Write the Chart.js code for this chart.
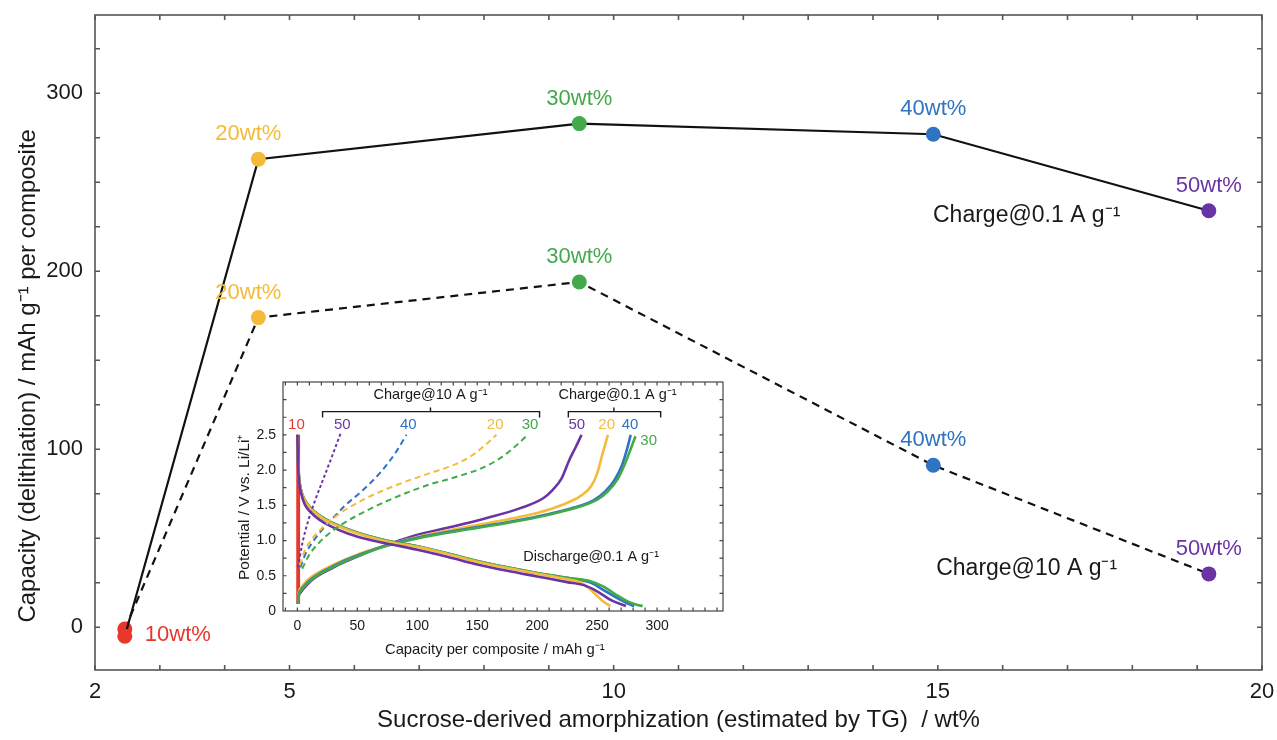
<!DOCTYPE html>
<html>
<head>
<meta charset="utf-8">
<script src="https://cdn.jsdelivr.net/npm/chart.js@4.4.1/dist/chart.umd.min.js"></script>
<style>
  html, body { margin: 0; padding: 0; background: #fff; }
  #wrap { position: relative; width: 1277px; height: 740px; }
  #mainChart { position: absolute; left: 0; top: 0; }
  #insetChart { position: absolute; left: 230px; top: 370px; }
</style>
</head>
<body>
<div id="wrap">
  <canvas id="mainChart" width="1277" height="740"></canvas>
  <canvas id="insetChart" width="500" height="290"></canvas>
</div>
<script>
// main plot: capacity vs amorphization
const samples = ['10wt%', '20wt%', '30wt%', '40wt%', '50wt%'];
const amorphization = [2.46, 4.52, 9.47, 14.93, 19.18];
const charge01 = [-5, 263, 283, 277, 234];
const charge10 = [-1, 174, 194, 91, 30];
const sampleColors = ['#e8372c', '#f4bb3a', '#43a94b', '#2f73c3', '#6b34a5'];
const xTickLabels = [2, 5, 10, 15, 20];
const yTickLabels = [0, 100, 200, 300];

// inset: [capacity, potential] per composite
const insetXTicks = [0, 50, 100, 150, 200, 250, 300];
const insetYTicks = [0, 0.5, 1.0, 1.5, 2.0, 2.5];

// charge @ 10 A/g (dashed)
const fast10 = [[0.3, 0.1], [0.3, 2.5]];
const fast50 = [[0.5, 0.62], [4, 0.95], [9, 1.28], [15, 1.58], [22, 1.89], [29, 2.2], [36, 2.52]];
const fast40 = [[2.5, 0.62], [7, 0.82], [13.6, 1.0], [20, 1.14], [27.5, 1.28], [40, 1.5], [55, 1.72], [70, 1.98], [82, 2.25], [91, 2.5]];
const fast20 = [[2, 0.65], [6, 0.85], [12, 1.02], [22, 1.2], [35, 1.38], [55, 1.58], [80, 1.77], [111, 1.96], [130, 2.07], [145, 2.2], [157, 2.36], [166, 2.5]];
const fast30 = [[4, 0.6], [10, 0.8], [17, 0.95], [25, 1.08], [40, 1.26], [55, 1.4], [80, 1.6], [111, 1.8], [130, 1.89], [158, 2.06], [175, 2.24], [191, 2.48]];

// charge @ 0.1 A/g (solid)
const slow10 = [[1, 0.1], [1, 2.5]];
const slow50 = [[0.5, 0.1], [1, 0.2], [3, 0.27], [8, 0.37], [13, 0.45], [20, 0.53], [28, 0.6], [40, 0.7], [55, 0.81], [70, 0.91], [85, 1.0], [102, 1.09], [130, 1.2], [158, 1.32], [186, 1.46], [205, 1.6], [213, 1.72], [220, 1.87], [227, 2.15], [232, 2.32], [237, 2.5]];
const slow20 = [[0.5, 0.1], [1, 0.25], [3, 0.33], [8, 0.43], [13, 0.5], [20, 0.57], [28, 0.64], [40, 0.73], [55, 0.83], [70, 0.91], [80, 0.96], [100, 1.05], [125, 1.14], [150, 1.22], [175, 1.3], [200, 1.39], [220, 1.5], [236, 1.63], [245, 1.77], [250, 1.95], [254, 2.2], [259, 2.5]];
const slow40 = [[0.5, 0.1], [1, 0.22], [3, 0.3], [8, 0.4], [13, 0.47], [20, 0.55], [28, 0.62], [40, 0.72], [55, 0.82], [70, 0.91], [80, 0.96], [100, 1.04], [125, 1.12], [150, 1.19], [175, 1.26], [200, 1.34], [220, 1.42], [235, 1.49], [247, 1.57], [257, 1.7], [265, 1.87], [271, 2.08], [275, 2.3], [278, 2.5]];
const slow30 = [[0.5, 0.1], [1, 0.21], [3, 0.29], [8, 0.39], [13, 0.46], [20, 0.54], [28, 0.61], [40, 0.71], [55, 0.81], [70, 0.9], [80, 0.95], [100, 1.03], [125, 1.11], [150, 1.18], [175, 1.25], [200, 1.33], [220, 1.41], [237, 1.49], [250, 1.58], [259, 1.7], [267, 1.87], [273, 2.08], [278, 2.3], [282, 2.48]];

// discharge @ 0.1 A/g (solid)
const dis50 = [[0, 2.5], [0.5, 2.1], [1.5, 1.83], [3, 1.68], [6, 1.52], [10, 1.42], [18, 1.3], [28, 1.2], [42, 1.1], [60, 1.01], [80, 0.94], [100, 0.87], [125, 0.77], [150, 0.66], [175, 0.57], [200, 0.49], [225, 0.41], [240, 0.36], [250, 0.28], [262, 0.15], [274, 0.07]];
const dis20 = [[0, 2.5], [0.5, 2.12], [1.5, 1.86], [3, 1.71], [6, 1.57], [10, 1.47], [18, 1.35], [28, 1.25], [42, 1.15], [60, 1.05], [80, 0.97], [100, 0.91], [125, 0.81], [150, 0.7], [175, 0.61], [200, 0.53], [225, 0.45], [238, 0.39], [246, 0.28], [254, 0.15], [261, 0.07]];
const dis40 = [[0, 2.5], [0.5, 2.15], [1.5, 1.88], [3, 1.72], [6, 1.58], [10, 1.48], [18, 1.36], [28, 1.26], [42, 1.16], [60, 1.06], [80, 0.98], [100, 0.92], [125, 0.82], [150, 0.71], [175, 0.62], [200, 0.54], [225, 0.47], [245, 0.4], [255, 0.3], [265, 0.2], [275, 0.11], [281, 0.07]];
const dis30 = [[0, 2.5], [0.5, 2.15], [1.5, 1.88], [3, 1.72], [6, 1.58], [10, 1.48], [18, 1.36], [28, 1.26], [42, 1.16], [60, 1.06], [80, 0.98], [100, 0.92], [125, 0.82], [150, 0.71], [175, 0.62], [200, 0.54], [225, 0.47], [245, 0.42], [255, 0.35], [265, 0.24], [275, 0.14], [283, 0.09], [288, 0.07]];

const FONT = '"Liberation Sans", Arial, Helvetica, sans-serif';
Chart.defaults.font.family = FONT;
Chart.defaults.color = '#1a1a1a';

function range(a, b, step) {
  const out = [];
  for (let v = a; v <= b + 1e-9; v += step) out.push(+v.toFixed(4));
  return out;
}

// keep the tick labels from pushing the plot area inwards
function noPad(s) {
  s.paddingLeft = 0; s.paddingRight = 0; s.paddingTop = 0; s.paddingBottom = 0;
}

// trailing no-break spaces nudge a centred axis title off-centre
const nb = n => '\u00A0'.repeat(n);

// box around the plot with inward ticks on all four sides
const framePlugin = {
  id: 'frame',
  beforeDraw(chart, args, opts) {
    if (!opts.fill) return;
    const { ctx, chartArea: a } = chart;
    ctx.save();
    ctx.fillStyle = '#fff';
    ctx.fillRect(a.left, a.top, a.right - a.left, a.bottom - a.top);
    ctx.restore();
  },
  afterDraw(chart, args, opts) {
    const { ctx, chartArea: a, scales: { x, y } } = chart;
    ctx.save();
    ctx.strokeStyle = opts.color;
    ctx.lineWidth = opts.width;
    ctx.strokeRect(a.left, a.top, a.right - a.left, a.bottom - a.top);
    ctx.beginPath();
    opts.xTicks.forEach(v => {
      const px = x.getPixelForValue(v);
      ctx.moveTo(px, a.bottom); ctx.lineTo(px, a.bottom - opts.len);
      ctx.moveTo(px, a.top); ctx.lineTo(px, a.top + opts.len);
    });
    opts.yTicks.forEach(v => {
      const py = y.getPixelForValue(v);
      ctx.moveTo(a.left, py); ctx.lineTo(a.left + opts.len, py);
      ctx.moveTo(a.right, py); ctx.lineTo(a.right - opts.len, py);
    });
    ctx.stroke();
    ctx.restore();
  }
};

// labels next to the main-plot points + the two rate annotations
const mainLabels = {
  id: 'mainLabels',
  afterDatasetsDraw(chart) {
    const { ctx, scales: { x, y } } = chart;
    ctx.save();
    ctx.font = '22px ' + FONT;
    ctx.textBaseline = 'middle';
    chart.data.datasets.forEach((ds, di) => {
      chart.getDatasetMeta(di).data.forEach((pt, i) => {
        if (i === 0) return;
        ctx.fillStyle = sampleColors[i];
        ctx.textAlign = 'center';
        ctx.fillText(samples[i], pt.x + (i === 1 ? -10 : 0), pt.y - 25);
      });
    });
    const p0 = chart.getDatasetMeta(0).data[0];
    ctx.fillStyle = sampleColors[0];
    ctx.textAlign = 'left';
    ctx.fillText(samples[0], p0.x + 20, p0.y - 1);

    ctx.fillStyle = '#1a1a1a';
    ctx.textAlign = 'center';
    ctx.font = '23px ' + FONT;
    ctx.fillText('Charge@0.1 A g\u207B\u00B9', x.getPixelForValue(16.37), y.getPixelForValue(231));
    ctx.fillText('Charge@10 A g\u207B\u00B9', x.getPixelForValue(16.37), y.getPixelForValue(33));
    ctx.restore();
  }
};

const pts = (xs, ys) => xs.map((v, i) => ({ x: v, y: ys[i] }));

new Chart(document.getElementById('mainChart'), {
  type: 'line',
  data: {
    datasets: [
      {
        label: 'Charge@0.1 A g-1',
        data: pts(amorphization, charge01),
        borderColor: '#111',
        borderWidth: 2.2,
        pointRadius: 7.5,
        pointBorderWidth: 0,
        pointBackgroundColor: sampleColors
      },
      {
        label: 'Charge@10 A g-1',
        data: pts(amorphization, charge10),
        borderColor: '#111',
        borderWidth: 2.2,
        borderDash: [8, 6],
        pointRadius: 7.5,
        pointBorderWidth: 0,
        pointBackgroundColor: sampleColors
      }
    ]
  },
  options: {
    responsive: false,
    animation: false,
    layout: { padding: { top: 15, right: 15, left: 0, bottom: 0 } },
    plugins: {
      legend: { display: false },
      tooltip: { enabled: false },
      frame: { color: '#555', width: 1.6, len: 5, xTicks: range(2, 20, 1), yTicks: range(0, 325, 25) }
    },
    scales: {
      x: {
        type: 'linear', min: 2, max: 20,
        grid: { display: false, drawTicks: false },
        border: { display: false },
        afterBuildTicks: s => { s.ticks = xTickLabels.map(v => ({ value: v })); },
        afterFit: s => { s.height = 70; noPad(s); },
        ticks: { font: { size: 22 }, color: '#1a1a1a', padding: 9, maxRotation: 0, autoSkip: false },
        title: {
          display: true,
          text: 'Sucrose-derived amorphization (estimated by TG)  / wt%',
          font: { size: 24 }, color: '#1a1a1a',
          padding: { top: 0, bottom: 5 }
        }
      },
      y: {
        type: 'linear', min: -24, max: 344,
        grid: { display: false, drawTicks: false },
        border: { display: false },
        afterBuildTicks: s => { s.ticks = yTickLabels.map(v => ({ value: v })); },
        afterFit: s => { s.width = 95; noPad(s); },
        ticks: { font: { size: 22 }, color: '#1a1a1a', padding: 12 },
        title: {
          display: true,
          text: 'Capacity (delithiation) / mAh g\u207B\u00B9 per composite' + nb(10),
          font: { size: 24 }, color: '#1a1a1a',
          padding: { top: 14, bottom: 0 }
        }
      }
    }
  },
  plugins: [framePlugin, mainLabels]
});

// ---------- inset ----------
const insetText = {
  id: 'insetText',
  afterDatasetsDraw(chart) {
    const { ctx, scales: { x, y } } = chart;
    const X = v => x.getPixelForValue(v);
    const Y = v => y.getPixelForValue(v);
    ctx.save();
    ctx.textAlign = 'center';
    ctx.textBaseline = 'middle';

    ctx.fillStyle = '#1a1a1a';
    ctx.font = '14.5px ' + FONT;
    ctx.fillText('Charge@10 A g\u207B\u00B9', X(111), Y(3.06));
    ctx.fillText('Charge@0.1 A g\u207B\u00B9', X(267), Y(3.06));
    ctx.fillText('Discharge@0.1 A g\u207B\u00B9', X(245), Y(0.77));

    // brackets
    ctx.strokeStyle = '#1a1a1a';
    ctx.lineWidth = 1.4;
    const bracket = (x1, x2, xm, v) => {
      ctx.beginPath();
      ctx.moveTo(X(x1), Y(v) + 6); ctx.lineTo(X(x1), Y(v));
      ctx.lineTo(X(x2), Y(v)); ctx.lineTo(X(x2), Y(v) + 6);
      ctx.moveTo(X(xm), Y(v)); ctx.lineTo(X(xm), Y(v) - 4);
      ctx.stroke();
    };
    bracket(21, 202, 111, 2.83);
    bracket(226, 303, 264, 2.83);

    // curve labels
    ctx.font = '15px ' + FONT;
    const lab = (t, c, cx, cy) => { ctx.fillStyle = c; ctx.fillText(t, X(cx), Y(cy)); };
    lab('10', sampleColors[0], -0.8, 2.64);
    lab('50', sampleColors[4], 37.5, 2.64);
    lab('40', sampleColors[3], 92.5, 2.64);
    lab('20', sampleColors[1], 165, 2.64);
    lab('30', sampleColors[2], 194, 2.64);
    lab('50', sampleColors[4], 233, 2.64);
    lab('20', sampleColors[1], 258, 2.64);
    lab('40', sampleColors[3], 277.5, 2.64);
    lab('30', sampleColors[2], 293, 2.42);
    ctx.restore();
  }
};

const curve = (arr, color, dash, width) => ({
  data: arr.map(([c, v]) => ({ x: c, y: v })),
  borderColor: color,
  borderWidth: width,
  borderDash: dash,
  pointRadius: 0,
  cubicInterpolationMode: 'monotone'
});

new Chart(document.getElementById('insetChart'), {
  type: 'line',
  data: {
    datasets: [
      curve(fast30, sampleColors[2], [6, 4], 2),
      curve(fast20, sampleColors[1], [6, 4], 2),
      curve(fast40, sampleColors[3], [6, 4], 2),
      curve(fast50, sampleColors[4], [3, 2.5], 2),
      curve(dis50, sampleColors[4], [], 2.6),
      curve(dis20, sampleColors[1], [], 2.6),
      curve(dis30, sampleColors[2], [], 2.6),
      curve(dis40, sampleColors[3], [], 2.6),
      curve(slow30, sampleColors[2], [], 2.6),
      curve(slow40, sampleColors[3], [], 2.6),
      curve(slow20, sampleColors[1], [], 2.6),
      curve(slow50, sampleColors[4], [], 2.6),
      curve(fast10, sampleColors[0], [], 3),
      curve(slow10, sampleColors[0], [], 3)
    ]
  },
  options: {
    responsive: false,
    animation: false,
    layout: { padding: { top: 12, right: 7, left: 0, bottom: 0 } },
    plugins: {
      legend: { display: false },
      tooltip: { enabled: false },
      frame: { fill: true, color: '#444', width: 1.2, len: 3.5, xTicks: range(-10, 350, 10), yTicks: range(0.25, 3.0, 0.25) }
    },
    scales: {
      x: {
        type: 'linear', min: -12, max: 355,
        grid: { display: false, drawTicks: false },
        border: { display: false },
        afterBuildTicks: s => { s.ticks = insetXTicks.map(v => ({ value: v })); },
        afterFit: s => { s.height = 49; noPad(s); },
        ticks: { font: { size: 14 }, color: '#1a1a1a', padding: 7, maxRotation: 0, autoSkip: false },
        title: {
          display: true, text: 'Capacity per composite / mAh g\u207B\u00B9' + nb(4),
          font: { size: 14.8 }, color: '#1a1a1a', padding: { top: 0, bottom: 1 }
        }
      },
      y: {
        type: 'linear', min: 0, max: 3.25,
        grid: { display: false, drawTicks: false },
        border: { display: false },
        afterBuildTicks: s => { s.ticks = insetYTicks.map(v => ({ value: v })); },
        afterFit: s => { s.width = 53; noPad(s); },
        ticks: { font: { size: 14 }, color: '#1a1a1a', padding: 7, callback: v => v === 0 ? '0' : v.toFixed(1) },
        title: {
          display: true, text: 'Potential / V vs. Li/Li\u207A' + nb(5),
          font: { size: 15.5 }, color: '#1a1a1a', padding: { top: 5, bottom: 0 }
        }
      }
    }
  },
  plugins: [framePlugin, insetText]
});
</script>
</body>
</html>
